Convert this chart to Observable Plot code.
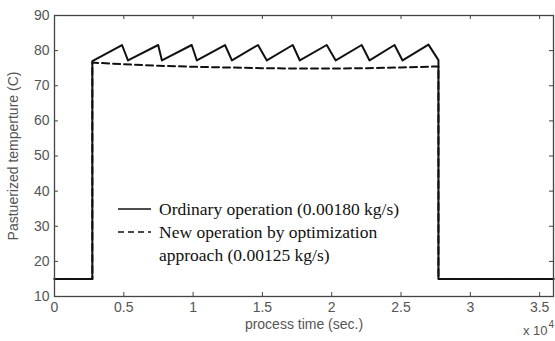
<!DOCTYPE html>
<html><head><meta charset="utf-8">
<script src="https://cdn.jsdelivr.net/npm/d3@7"></script>
<script src="https://cdn.jsdelivr.net/npm/@observablehq/plot@0.6"></script>
<style>body{margin:0;background:#fff} #chart{width:555px;height:341px}</style>
</head><body><div id="chart"></div>
<script>
// Ordinary operation (0.00180 kg/s)
const ordinaryTime = [0, 2730, 2730, 4870, 5300, 7480, 7750, 9900, 10270, 12300, 12800, 14680, 15320, 17190, 17700, 19640, 20290, 22160, 22730, 24530, 25110, 26980, 27700, 27700, 36000];
const ordinaryTemp = [15, 15, 77, 81.6, 77.2, 81.6, 77.2, 81.6, 77.2, 81.6, 77.2, 81.6, 77.2, 81.6, 77.2, 81.6, 77.2, 81.6, 77.2, 81.6, 77.2, 81.7, 77.3, 15, 15];
// New operation by optimization approach (0.00125 kg/s)
const newTime = [0, 2730, 2730, 5000, 7500, 10000, 12500, 15000, 17500, 20000, 22500, 25000, 27700, 27700, 36000];
const newTemp = [15, 15, 76.6, 76.1, 75.7, 75.4, 75.2, 75.0, 74.9, 74.9, 75.0, 75.2, 75.5, 15, 15];

const xTicks = [0, 5000, 10000, 15000, 20000, 25000, 30000, 35000];
const yTicks = [10, 20, 30, 40, 50, 60, 70, 80, 90];
const xLabel = "process time (sec.)";
const yLabel = "Pastuerized temperture (C)";
const legendLabels = ["Ordinary operation (0.00180 kg/s)", "New operation by optimization", "approach (0.00125 kg/s)"];

const W = 555, H = 341, mL = 54, mR = 2, mT = 15, mB = 45;
const innerW = W - mL - mR, innerH = H - mT - mB;
const ordinary = ordinaryTime.map((t, i) => ({t, v: ordinaryTemp[i]}));
const optimized = newTime.map((t, i) => ({t, v: newTemp[i]}));
const axisColor = "#444";

const plot = Plot.plot({
  width: W, height: H, marginLeft: mL, marginRight: mR, marginTop: mT, marginBottom: mB,
  style: {fontFamily: "'Liberation Sans', Arial, sans-serif", fontSize: "14px", color: "#555", background: "#fff"},
  x: {domain: [0, 36000]},
  y: {domain: [10, 90]},
  marks: [
    Plot.tickX(xTicks.slice(1), {x: d => d, insetTop: innerH - 4, stroke: axisColor}),
    Plot.tickX(xTicks.slice(1), {x: d => d, insetBottom: innerH - 4, stroke: axisColor}),
    Plot.tickY(yTicks.slice(1, -1), {y: d => d, insetRight: innerW - 4, stroke: axisColor}),
    Plot.tickY(yTicks.slice(1, -1), {y: d => d, insetLeft: innerW - 4, stroke: axisColor}),
    Plot.axisX({ticks: xTicks, tickSize: 0, tickPadding: 6, tickFormat: d => String(d / 1e4), label: null}),
    Plot.axisY({ticks: yTicks, tickSize: 0, tickPadding: 5, label: null}),
    Plot.line(ordinary, {x: "t", y: "v", stroke: "#111", strokeWidth: 2}),
    Plot.line(optimized, {x: "t", y: "v", stroke: "#111", strokeWidth: 2, strokeDasharray: "7,4"}),
    Plot.frame({stroke: axisColor, strokeWidth: 1.3}),
    Plot.text([xLabel], {text: d => d, frameAnchor: "bottom", dy: 32, fill: "#555", fontSize: 14}),
    Plot.text([yLabel], {text: d => d, frameAnchor: "left", textAnchor: "middle", dx: -41, rotate: -90, fill: "#555", fontSize: 14}),
    Plot.text(["x 10"], {text: d => d, frameAnchor: "bottom-right", textAnchor: "end", dx: -6, dy: 38, fill: "#555", fontSize: 13}),
    Plot.text(["4"], {text: d => d, frameAnchor: "bottom-right", textAnchor: "start", dx: -5, dy: 31, fill: "#555", fontSize: 10})
  ]
});

// legend (drawn into the plot's SVG)
const svg = d3.select(plot);
const lg = svg.append("g").attr("font-family", "'Liberation Serif', 'Times New Roman', serif").attr("font-size", 17.5).attr("fill", "#111").attr("text-anchor", "start");
const rows = [{y: 209, dash: null}, {y: 232, dash: "6,4"}];
rows.forEach((r, i) => {
  lg.append("line").attr("x1", 118).attr("x2", 151).attr("y1", r.y).attr("y2", r.y)
    .attr("stroke", "#111").attr("stroke-width", 1.5).attr("stroke-dasharray", r.dash);
});
legendLabels.forEach((s, i) => {
  lg.append("text").attr("x", 159).attr("y", 209 + i * 23).attr("dy", "0.32em").attr("text-anchor", "start").text(s);
});

document.getElementById("chart").append(plot);
</script>
</body></html>
